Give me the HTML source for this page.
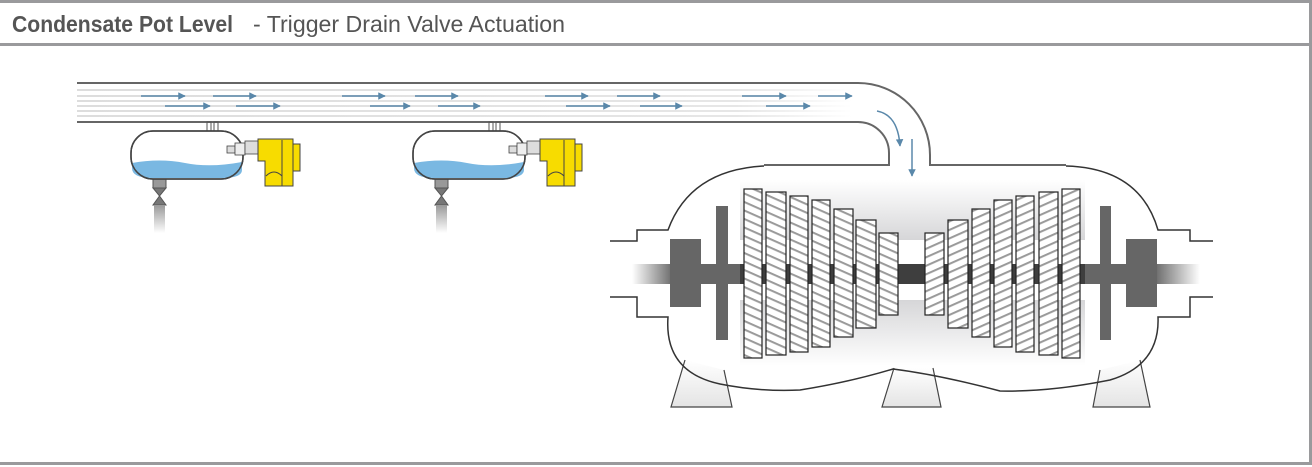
<!DOCTYPE html>
<html><head><meta charset="utf-8"><style>
html,body{margin:0;padding:0;background:#fff;}
svg{display:block;}
text{font-family:"Liberation Sans",sans-serif;}
</style></head><body>
<svg width="1312" height="467" viewBox="0 0 1312 467" xmlns="http://www.w3.org/2000/svg">
<defs>
<linearGradient id="shaftL" x1="0" x2="1"><stop offset="0" stop-color="#666" stop-opacity="0"/><stop offset="0.7" stop-color="#666"/></linearGradient>
<linearGradient id="shaftR" x1="1" x2="0"><stop offset="0" stop-color="#666" stop-opacity="0"/><stop offset="0.7" stop-color="#666"/></linearGradient>
<linearGradient id="gtop" x1="0" y1="0" x2="0" y2="1"><stop offset="0" stop-color="#fff"/><stop offset="1" stop-color="#d6d6d8"/></linearGradient>
<linearGradient id="gbot" x1="0" y1="1" x2="0" y2="0"><stop offset="0" stop-color="#fff"/><stop offset="1" stop-color="#d6d6d8"/></linearGradient>
<linearGradient id="leg" x1="0" y1="0" x2="0" y2="1"><stop offset="0" stop-color="#fff"/><stop offset="1" stop-color="#e4e4e4"/></linearGradient>
<linearGradient id="drain" x1="0" y1="0" x2="0" y2="1"><stop offset="0" stop-color="#999"/><stop offset="1" stop-color="#fff"/></linearGradient>
<linearGradient id="streak" x1="0" x2="1"><stop offset="0" stop-color="#ddd"/><stop offset="0.85" stop-color="#e6e6e6"/><stop offset="1" stop-color="#fff"/></linearGradient>
<pattern id="hl" width="20" height="8.5" patternUnits="userSpaceOnUse" patternTransform="skewY(24)">
<rect width="20" height="8.5" fill="#fff"/><rect y="5.5" width="20" height="2.2" fill="#9a9a9a"/></pattern>
<pattern id="hr" width="20" height="8.5" patternUnits="userSpaceOnUse" patternTransform="skewY(-24)">
<rect width="20" height="8.5" fill="#fff"/><rect y="5.5" width="20" height="2.2" fill="#9a9a9a"/></pattern>
<marker id="ar" viewBox="0 0 10 10" refX="9" refY="5" markerWidth="7" markerHeight="5" orient="auto"><path d="M0,0 L10,5 L0,10z" fill="#5a88aa"/></marker>
</defs>

<rect x="0" y="0" width="1312" height="3" fill="#9a9a9c"/>
<rect x="0" y="43" width="1312" height="3" fill="#9a9a9c"/>
<rect x="1309" y="0" width="3" height="465" fill="#9a9a9c"/>
<rect x="0" y="462" width="1312" height="3" fill="#9a9a9c"/>
<text x="12" y="32" font-size="23" font-weight="bold" fill="#555" textLength="221" lengthAdjust="spacingAndGlyphs">Condensate Pot Level</text>
<text x="253" y="32" font-size="23" fill="#555" textLength="312" lengthAdjust="spacingAndGlyphs">- Trigger Drain Valve Actuation</text>

<g fill="url(#streak)">
<rect x="77" y="89" width="775" height="2"/><rect x="77" y="95" width="775" height="2"/>
<rect x="77" y="100" width="775" height="2"/><rect x="77" y="105" width="775" height="2"/>
<rect x="77" y="110" width="775" height="2"/><rect x="77" y="115" width="775" height="2"/>
</g>
<g fill="none" stroke="#666" stroke-width="2">
<path d="M77,83 H858 A72,72 0 0 1 930,155 V165 H1066"/>
<path d="M77,122 H858 A31,31 0 0 1 889,153 V165 H764"/>
</g>
<g stroke="#5a88aa" stroke-width="1.5" marker-end="url(#ar)" fill="none">
<line x1="141" y1="96" x2="185" y2="96"/><line x1="213" y1="96" x2="256" y2="96"/>
<line x1="342" y1="96" x2="385" y2="96"/><line x1="415" y1="96" x2="458" y2="96"/>
<line x1="545" y1="96" x2="588" y2="96"/><line x1="617" y1="96" x2="660" y2="96"/>
<line x1="742" y1="96" x2="786" y2="96"/><line x1="818" y1="96" x2="852" y2="96"/>
<line x1="165" y1="106" x2="210" y2="106"/><line x1="236" y1="106" x2="280" y2="106"/>
<line x1="370" y1="106" x2="410" y2="106"/><line x1="438" y1="106" x2="480" y2="106"/>
<line x1="566" y1="106" x2="610" y2="106"/><line x1="640" y1="106" x2="682" y2="106"/>
<line x1="766" y1="106" x2="810" y2="106"/>
<path d="M877,111 Q898,115 900,146"/>
<line x1="912" y1="139" x2="912" y2="176"/>
</g>

<g id="pot">
<rect x="207" y="122" width="4" height="10" fill="none" stroke="#555" stroke-width="1"/>
<rect x="214" y="122" width="4" height="10" fill="none" stroke="#555" stroke-width="1"/>
<rect x="153" y="178" width="13" height="10" fill="#999" stroke="#555"/>
<path d="M153,188 L166,188 L159.5,196 Z M153,205 L166,205 L159.5,196 Z" fill="#777" stroke="#555"/>
<rect x="154" y="205" width="11" height="28" fill="url(#drain)"/>
<rect x="131" y="131" width="112" height="48" rx="22" fill="#fff" stroke="#444" stroke-width="1.5"/>
<path d="M132,163 Q160,158 185,163 T242,162 V170 Q242,178 222,178 H152 Q132,178 132,168Z" fill="#7ab8e2"/>
<rect x="131" y="131" width="112" height="48" rx="22" fill="none" stroke="#444" stroke-width="1.5"/>
<rect x="227" y="146" width="8" height="7" fill="#ddd" stroke="#444" stroke-width="0.8"/>
<rect x="235" y="143" width="10" height="12" fill="#eee" stroke="#444" stroke-width="0.8"/>
<rect x="245" y="141" width="13" height="13" fill="#ddd" stroke="#444" stroke-width="0.8"/>
<path d="M258,139 H293 V186 H265 V161 H258 Z" fill="#f7dc00" stroke="#444" stroke-width="1"/>
<rect x="293" y="144" width="7" height="27" fill="#f7dc00" stroke="#444" stroke-width="1"/>
<line x1="282" y1="140" x2="282" y2="186" stroke="#444"/>
<path d="M266,176 Q274,168 282,176" fill="none" stroke="#444"/>
</g>
<use href="#pot" x="282" y="0"/>

<rect x="740" y="180" width="345" height="60" fill="url(#gtop)"/>
<rect x="740" y="300" width="345" height="66" fill="url(#gbot)"/>
<g fill="url(#leg)" stroke="#444" stroke-width="1.2">
<path d="M685,360 L671,407 H732 L724,370"/>
<path d="M894,368 L882,407 H941 L933,368"/>
<path d="M1100,370 L1093,407 H1150 L1140,360"/>
</g>
<path d="M764,166 Q690,170 668,230 H637 V241 H610 M610,297 H637 V317 H668 Q664,372 720,384 Q760,392 800,390 Q850,382 893,369 Q940,375 1000,391 Q1050,392 1110,380 Q1160,365 1158,317 H1190 V297 H1213 M1213,241 H1190 V230 H1158 Q1140,168 1066,166"
 fill="none" stroke="#333" stroke-width="1.5"/>

<rect x="632" y="264" width="60" height="20" fill="url(#shaftL)"/>
<rect x="690" y="264" width="446" height="20" fill="#666"/>
<rect x="1134" y="264" width="66" height="20" fill="url(#shaftR)"/>
<rect x="740" y="264" width="345" height="20" fill="#3e3e3e"/>
<rect x="670" y="239" width="31" height="68" fill="#666"/>
<rect x="1126" y="239" width="31" height="68" fill="#666"/>
<rect x="716" y="206" width="12" height="134" fill="#666"/>
<rect x="1100" y="206" width="11" height="134" fill="#666"/>

<g stroke="#222" stroke-width="1.2">
<rect x="744" y="189" width="18" height="169" fill="url(#hl)"/>
<rect x="766" y="192" width="20" height="163" fill="url(#hl)"/>
<rect x="790" y="196" width="18" height="156" fill="url(#hl)"/>
<rect x="812" y="200" width="18" height="147" fill="url(#hl)"/>
<rect x="834" y="209" width="19" height="128" fill="url(#hl)"/>
<rect x="856" y="220" width="20" height="108" fill="url(#hl)"/>
<rect x="879" y="233" width="19" height="82" fill="url(#hl)"/>
<rect x="925" y="233" width="19" height="82" fill="url(#hr)"/>
<rect x="948" y="220" width="20" height="108" fill="url(#hr)"/>
<rect x="972" y="209" width="18" height="128" fill="url(#hr)"/>
<rect x="994" y="200" width="18" height="147" fill="url(#hr)"/>
<rect x="1016" y="196" width="18" height="156" fill="url(#hr)"/>
<rect x="1039" y="192" width="19" height="163" fill="url(#hr)"/>
<rect x="1062" y="189" width="18" height="169" fill="url(#hr)"/>
</g>
</svg>
</body></html>
